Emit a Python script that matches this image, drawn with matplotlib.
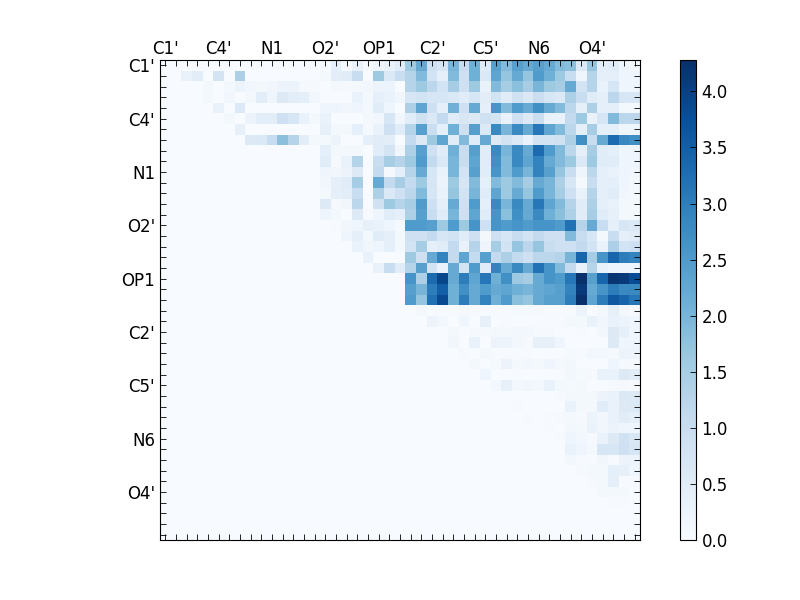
import matplotlib
matplotlib.use("Agg")
import matplotlib.pyplot as plt
import numpy as np

atoms = ["C1'", "C4'", "N1", "O2'", "OP1", "C2'", "C5'", "N6", "O4'"]
n_atoms = 45
cbar_ticks = [0.0, 0.5, 1.0, 1.5, 2.0, 2.5, 3.0, 3.5, 4.0]

# one row per atom, leading zeros are the empty lower triangle
rows = [
    [0]*16 + [.4, .05, .3, .05, .2, .3, .5, 1.6, 2.2, .9, .7, 2.0, 1.0, 2.1, .5, 2.4, 1.9, 2.4, 2.2, 2.4, 2.2, 1.9, 1.8, .6, 1.7, .4, .5, .2, .1],
    [0]*2 + [.3, .45, 0, .75, 0, 1.4, 0, 0, 0, 0, 0, 0, 0, .1, .45, .5, 1.0, 0, 1.6, .6, 1.0, 1.3, 1.9, .8, .4, 1.9, .9, 2.1, .6, 2.3, 1.7, 2.2, 1.7, 2.5, 2.1, 1.6, 1.0, .2, 1.3, .4, .4, .2, .2],
    [0]*4 + [.1, 0, .1, .25, .15, .1, .15, .25, .25, .05, .05, 0, .1, .05, .1, .15, .25, .25, 0, 1.3, 1.6, 1.2, .8, 1.5, .9, 1.6, .3, 1.9, 1.5, 1.8, 1.5, 2.0, 1.6, 1.5, 2.2, .8, 1.3, .3, .7, .2, .2],
    [0]*4 + [.1, 0, .15, 0, .1, .45, .2, .55, .45, .4, .15, 0, 0, 0, .3, .1, .4, .3, .15, .7, .8, .7, .7, .6, .5, .7, .45, .8, .5, .85, .6, .95, .7, .6, 1.4, 1.0, .5, .4, 1.2, .7, .7],
    [0]*5 + [.3, 0, .6, 0, 0, 0, 0, 0, 0, 0, .2, .2, .15, .2, .1, .5, .2, 0, 1.4, 2.3, .9, .4, 2.1, .9, 2.2, .4, 2.6, 1.9, 2.5, 2.2, 2.7, 2.2, 1.9, 1.2, .4, 1.4, .4, .4, .1, .1],
    [0]*6 + [.08, 0, .25, .45, .45, .9, .7, .3, .08, .3, 0, 0, 0, .1, .15, .7, .15, .5, .85, .6, 1.1, .5, .65, .55, .85, .75, .3, .9, .55, .95, .3, .3, 1.1, 1.6, .3, .7, 1.9, 1.2, 1.2],
    [0]*7 + [.35, 0, 0, 0, 0, 0, 0, 0, .35, .1, .1, .4, .05, .3, .9, .5, 1.3, 2.4, .95, .4, 2.1, .9, 2.4, .6, 2.8, 2.0, 2.8, 2.2, 3.1, 2.3, 1.9, 1.2, .4, 1.5, .4, .4, .2, .2],
    [0]*8 + [.55, .6, 1.0, 1.8, 1.3, .45, .1, .1, .25, 0, 0, .4, .5, .45, 0, 1.1, .55, 1.6, 2.3, .5, 1.9, .5, 2.2, .55, .8, .6, .3, .8, .8, .85, 1.4, 2.7, 1.0, 2.2, 3.3, 2.8, 2.7],
    [0]*15 + [.4, .1, .1, .1, 0, .5, .75, .15, 1.4, 2.4, .9, .5, 2.1, 1.0, 2.4, .5, 2.8, 2.0, 2.8, 2.2, 3.3, 2.5, 1.9, 1.2, .4, 1.5, .5, .4, .2, .2],
    [0]*15 + [.5, .05, .3, 1.3, 0, 1.0, 1.5, 1.3, 1.6, 2.5, 1.1, .6, 2.0, 1.0, 2.3, .5, 2.7, 1.9, 2.8, 2.3, 2.9, 2.2, 1.9, 1.6, .6, 1.6, .5, .5, .2, .2],
    [0]*15 + [.2, .15, .25, .55, 0, 1.1, .05, .4, 1.3, 2.2, .7, .3, 2.0, .8, 2.4, .5, 2.6, 1.9, 2.5, 2.0, 2.9, 2.4, 1.7, 1.0, .2, 1.2, .4, .3, .2, .15],
    [0]*15 + [.15, .4, .5, 1.5, 0, 2.2, 1.1, 1.5, 1.1, 1.6, .7, .25, 1.6, .7, 1.9, .4, 1.9, 1.6, 1.9, 1.5, 2.2, 2.0, 1.4, .7, .1, 1.0, .4, .4, .2, .1],
    [0]*15 + [.1, .4, .45, 1.0, 0, 1.4, .6, .9, 1.2, 1.9, .7, .3, 1.7, .8, 2.0, .5, 2.3, 1.6, 2.2, 1.7, 2.5, 2.0, 1.5, .9, .3, 1.3, .4, .5, .15, .1],
    [0]*15 + [.55, .05, .15, 1.2, 0, .85, 1.6, 1.3, 1.5, 2.5, .9, .4, 2.2, .9, 2.5, .4, 2.8, 2.0, 2.8, 2.2, 3.1, 2.3, 1.9, 1.3, .5, 1.4, .4, .3, .1, .1],
    [0]*15 + [.2, .1, 0, .55, .05, .2, .5, .4, 1.4, 2.4, 1.0, .5, 2.0, .9, 2.3, .5, 2.6, 1.8, 2.7, 2.2, 2.8, 2.1, 1.8, 1.4, .5, 1.5, .5, .35, .1, .1],
    [0]*16 + [.02, .15, .2, .35, .3, .2, .05, 2.5, 2.5, 2.4, 1.6, 2.5, 1.6, 2.6, .9, 2.6, 2.5, 2.6, 2.5, 2.6, 2.6, 2.5, 3.2, 1.3, 2.2, 1.0, .4, .7, .6],
    [0]*17 + [.2, .4, .1, .5, .4, .1, .9, .9, 1.1, .7, .8, .5, .9, .1, .9, .7, 1.0, .8, 1.1, .9, .9, 1.9, 1.0, .7, .1, 1.0, .4, .5],
    [0]*18 + [.3, .15, .2, .4, .1, .8, 1.5, .4, .5, 1.1, .3, 1.3, .2, 1.5, .8, 1.7, 1.2, 1.7, 1.0, .9, .9, 1.1, .8, .3, 1.4, .8, .9],
    [0]*19 + [.3, 0, 0, 0, 1.6, .9, 2.2, 2.9, 1.1, 2.3, 1.1, 2.4, 1.1, 1.4, 1.1, .9, 1.2, 1.2, 1.3, 2.0, 3.4, 1.5, 2.6, 3.4, 3.0, 2.9],
    [0]*20 + [.3, 1.0, .5, 1.3, 2.4, .8, .3, 2.2, .8, 2.5, .5, 2.9, 2.2, 2.8, 2.2, 3.2, 2.6, 1.9, 1.1, .3, 1.3, .3, .2, .2, .2],
    [0]*23 + [2.6, 1.4, 3.3, 3.9, 2.2, 3.0, 2.3, 3.1, 2.1, 2.7, 1.6, 1.5, 2.2, 2.6, 2.5, 3.1, 4.28, 2.4, 3.4, 4.2, 4.1, 3.8],
    [0]*23 + [2.4, 2.0, 3.0, 3.5, 2.1, 2.7, 2.2, 2.5, 2.2, 2.3, 2.1, 2.0, 2.2, 2.3, 2.4, 2.9, 4.1, 2.2, 2.6, 3.0, 2.8, 2.8],
    [0]*23 + [2.5, 1.7, 3.2, 3.85, 2.1, 3.0, 2.2, 2.9, 2.1, 2.5, 1.8, 1.7, 2.2, 2.4, 2.4, 3.0, 4.25, 2.3, 3.0, 3.6, 3.4, 3.1],
    [0]*24 + [.08, .02, .02, .02, .05, .03, .03, .03, .02, .06, .06, .04, .02, .02, .02, .25, 0, .08, .35, .1, .05],
    [0]*25 + [.25, .12, 0, .2, 0, .35, 0, .02, .02, .02, .02, .02, .02, .1, .1, .3, .15, .3, .25, .2],
    [0]*27 + [.08, 0, .05, .05, .1, .1, .13, .13, .05, .05, 0, 0, .03, 0, .13, .55, .4, .2],
    [0]*27 + [.15, 0, .3, 0, .25, .25, .13, .05, .35, .35, .2, 0, 0, 0, 0, .55, .2, .2],
    [0]*28 + [.05, 0, .07, .02, .02, .02, .02, 0, 0, 0, .06, .03, .12, .12, .1, .25, .25],
    [0]*29 + [.08, 0, .06, .25, .1, .13, .07, .2, .07, .12, 0, 0, 0, .2, .05, .05],
    [0]*30 + [.2, 0, 0, .02, 0, 0, 0, 0, .12, .06, .05, .3, .3, .55, .45],
    [0]*31 + [.12, .35, .12, .15, .12, .3, .08, .06, .07, 0, 0, .05, .04, .02],
    [0]*37 + [.02, .1, .07, .1, .25, .3, .6, .55],
    [0]*33 + [.02, 0, 0, 0, 0, .3, .1, .1, .5, .3, .55, .6],
    [0]*34 + [.02, 0, .02, .05, .1, .05, .22, .15, .3, .5, .4],
    [0]*36 + [.02, 0, .12, .1, .3, .15, .25, .2, .2],
    [0]*37 + [.02, .2, .12, .05, .3, .55, .85, .65],
    [0]*38 + [.3, .2, .08, .7, .7, .9, .7],
    [0]*38 + [.13, .03, .02, .15, .03, .25, .25],
    [0]*39 + [.05, .1, .1, .4, .35, .2],
    [0]*40 + [.05, .1, .4, .03, .04],
    [0]*41 + [.08, .1, .1, 0],
    [0]*42 + [.03, .02, 0],
    [0]*45,
    [0]*45,
    [0]*45,
]
matrix = np.array(rows, dtype=float)

fig = plt.figure(figsize=(8, 6), dpi=100)
ax = fig.add_axes([0.2, 0.1, 0.6, 0.8])
im = ax.imshow(matrix, cmap="Blues", interpolation="nearest", vmin=0, vmax=matrix.max(), aspect="auto")

labels = [""] * n_atoms
for i, a in enumerate(atoms):
    labels[i * 5] = a
ax.set_xticks(range(n_atoms))
ax.set_yticks(range(n_atoms))
ax.set_xticklabels(labels, fontsize=12)
ax.set_yticklabels(labels, fontsize=12)
ax.tick_params(direction="in", length=4, width=0.6, top=True, bottom=True, left=True, right=True,
               labeltop=True, labelbottom=False)
# labels sit closer to the frame on top than on the left
ax.tick_params(axis="x", pad=1.5)
ax.tick_params(axis="y", pad=3.5)

cax = fig.add_axes([0.85, 0.1, 0.02, 0.8])
cb = fig.colorbar(im, cax=cax, ticks=cbar_ticks)
cb.ax.tick_params(direction="in", length=4, width=0.6, labelsize=12, pad=4)

fig.savefig("out.png", dpi=100)
